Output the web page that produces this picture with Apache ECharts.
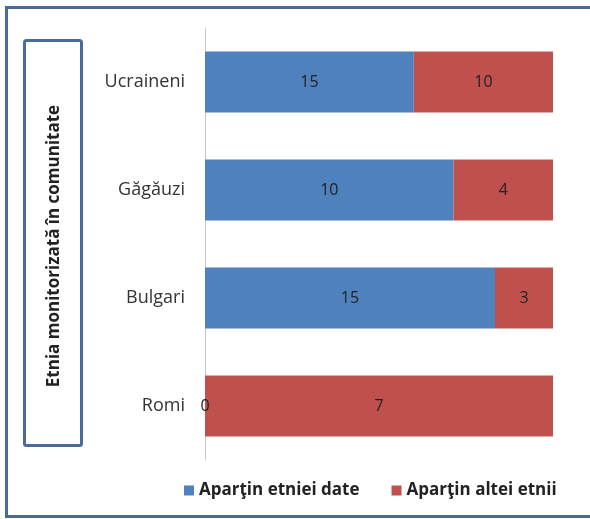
<!DOCTYPE html>
<html>
<head>
<meta charset="utf-8">
<script src="https://cdn.jsdelivr.net/npm/echarts@6/dist/echarts.min.js"></script>
<style>
  html, body { margin: 0; padding: 0; background: #fff; }
  #chart { width: 590px; height: 519px; }
</style>
</head>
<body>
<div id="chart"></div>
<script>
// date
const categories = ['Romi', 'Bulgari', 'Găgăuzi', 'Ucraineni'];
const seriesNames = ['Aparţin etniei date', 'Aparţin altei etnii'];
const sameEthnic = [0, 15, 10, 15];
const otherEthnic = [7, 3, 4, 10];

const totals = categories.map((c, i) => sameEthnic[i] + otherEthnic[i]);
const pct = (arr) => arr.map((v, i) => ({ value: v / totals[i] * 100, raw: v }));

const FONT = '"Open Sans", sans-serif';
const chart = echarts.init(document.getElementById('chart'));

const labelStyle = {
  show: true,
  position: 'inside',
  color: '#222',
  fontSize: 16,
  fontFamily: FONT,
  formatter: p => p.data.raw
};

const option = {
  animation: false,
  grid: { left: 205, right: 37, top: 28, bottom: 59 },
  legend: {
    bottom: 15,
    left: 179,
    itemWidth: 10,
    itemHeight: 10,
    itemGap: 32,
    icon: 'rect',
    textStyle: { fontSize: 17, fontWeight: 'bold', color: '#222', fontFamily: FONT },
    data: seriesNames
  },
  xAxis: {
    type: 'value',
    min: 0,
    max: 100,
    show: false
  },
  yAxis: {
    type: 'category',
    data: categories,
    axisLine: { show: true, lineStyle: { color: '#c8c8c8', width: 1 } },
    axisTick: { show: false },
    axisLabel: {
      margin: 20,
      fontSize: 18,
      color: '#333',
      fontFamily: FONT
    }
  },
  series: [
    {
      name: seriesNames[0],
      type: 'bar',
      stack: 'total',
      barWidth: 61,
      itemStyle: { color: '#4F81BD' },
      label: labelStyle,
      data: pct(sameEthnic)
    },
    {
      name: seriesNames[1],
      type: 'bar',
      stack: 'total',
      barWidth: 61,
      itemStyle: { color: '#C0504D' },
      label: labelStyle,
      data: pct(otherEthnic)
    }
  ],
  graphic: [
    // chenar exterior
    {
      type: 'rect',
      shape: { x: 6.5, y: 7.5, width: 620, height: 509 },
      style: { fill: 'none', stroke: '#4a6a9c', lineWidth: 3 }
    },
    // caseta titlului axei
    {
      type: 'rect',
      shape: { x: 24.5, y: 40.5, width: 57, height: 405, r: 2 },
      style: { fill: '#fff', stroke: '#4a6a9c', lineWidth: 3 }
    },
    {
      type: 'text',
      x: 54,
      y: 246,
      rotation: Math.PI / 2,
      style: {
        text: 'Etnia monitorizată în comunitate',
        fontSize: 17,
        fontWeight: 'bold',
        fill: '#222',
        fontFamily: FONT,
        align: 'center',
        verticalAlign: 'middle'
      }
    }
  ]
};

chart.setOption(option);
</script>
</body>
</html>
